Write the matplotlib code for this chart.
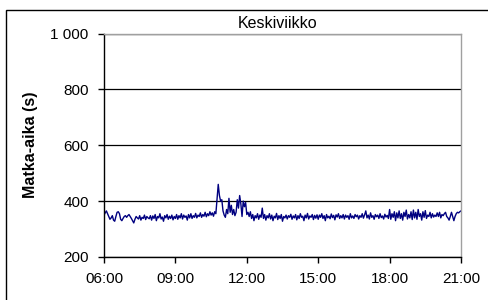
#!/usr/bin/env python

import numpy as np
import matplotlib.pyplot as plt
from matplotlib.patches import Rectangle

# travel time samples every 3 minutes, 06:00 - 21:00
matka_aika = [
    350, 358, 365, 355, 345, 335, 340, 348, 332, 328, 345, 360, 362, 355, 335, 330, 338, 345, 348, 342,  # 06
    348, 352, 345, 338, 330, 322, 335, 345, 340, 336, 348, 332, 342, 338, 350, 334, 345, 340, 337, 348,  # 07
    332, 347, 338, 352, 330, 345, 340, 355, 336, 343, 328, 348, 340, 352, 335, 346, 338, 350, 333, 345,  # 08
    338, 352, 335, 348, 340, 355, 336, 350, 342, 347, 332, 352, 340, 355, 338, 348, 342, 356, 340, 350,  # 09
    345, 358, 342, 352, 346, 360, 344, 355, 348, 362, 350, 358, 346, 362, 355, 410, 460, 420, 400, 405,  # 10
    365, 350, 342, 370, 355, 410, 360, 385, 352, 370, 348, 360, 405, 375, 420, 390, 345, 400, 380, 395,  # 11
    352, 360, 345, 362, 338, 352, 330, 348, 340, 355, 335, 350, 342, 375, 338, 352, 332, 348, 340, 355,  # 12
    336, 350, 330, 346, 340, 356, 334, 348, 338, 352, 328, 345, 340, 350, 336, 348, 342, 353, 335, 347,  # 13
    340, 352, 333, 348, 338, 355, 342, 346, 330, 350, 340, 356, 336, 347, 342, 352, 334, 349, 339, 351,  # 14
    335, 350, 342, 355, 338, 348, 330, 352, 340, 346, 337, 354, 341, 349, 333, 351, 343, 355, 338, 348,  # 15
    340, 352, 336, 350, 342, 348, 335, 355, 340, 347, 338, 352, 344, 350, 336, 348, 342, 355, 339, 351,  # 16
    365, 340, 350, 336, 358, 342, 348, 335, 352, 344, 350, 338, 355, 341, 347, 336, 353, 343, 349, 338,  # 17
    370, 335, 355, 342, 362, 330, 358, 340, 365, 338, 355, 332, 360, 345, 368, 336, 352, 340, 362, 334,  # 18
    368, 340, 360, 335, 370, 345, 355, 332, 362, 342, 366, 338, 350, 345, 360, 340, 355, 343, 350, 345,  # 19
    358, 345, 360, 340, 352, 348, 355, 360, 345, 340, 332, 345, 360, 345, 330, 345, 355, 360, 358, 362,  # 20
    365,                                                                                                 # 21
]
x_ticks = [6, 9, 12, 15, 18, 21]
x_labels = ["06:00", "09:00", "12:00", "15:00", "18:00", "21:00"]
y_ticks = [200, 400, 600, 800, 1000]
y_labels = ["200", "400", "600", "800", "1 000"]

plt.rcParams['font.family'] = ['Liberation Sans', 'DejaVu Sans']

hours = 6 + np.arange(len(matka_aika)) * 3 / 60.0

fig = plt.figure(figsize=(4.89, 3.0), dpi=100)
ax = fig.add_axes([104/489, 1 - 257/300, 357/489, 223.5/300])

# outer chart frame (runs off the right/bottom edge)
fig.patches.append(Rectangle((6/489, -0.05), 1.1, 1 - 10/300 + 0.05,
                             transform=fig.transFigure, fill=False,
                             edgecolor='black', linewidth=1.0))

ax.plot(hours, matka_aika, color='#000080', linewidth=1.0)

ax.set_xlim(6, 21)
ax.set_ylim(200, 1000)
ax.set_xticks(x_ticks)
ax.set_xticklabels(x_labels)
ax.set_yticks(y_ticks)
ax.set_yticklabels(y_labels)
ax.tick_params(axis='both', labelsize=11, direction='out', length=4,
               width=1, color='black')
ax.tick_params(axis='y', pad=7)
ax.tick_params(axis='x', pad=7)

ax.yaxis.grid(True, color='black', linewidth=0.9)
ax.set_axisbelow(True)

ax.spines['left'].set_color('black')
ax.spines['bottom'].set_color('black')
ax.spines['top'].set_color('#a0a0a0')
ax.spines['right'].set_color('#a0a0a0')
for s in ax.spines.values():
    s.set_linewidth(1.0)

fig.text(277.7/489, 1 - 23/300, "Keskiviikko", ha='center', va='center',
         fontsize=11.5)
fig.text(31/489, 1 - 145/300, "Matka-aika (s)", ha='center', va='center',
         rotation=90, fontsize=11.5, fontweight='bold')

plt.savefig("out.png", dpi=100)
